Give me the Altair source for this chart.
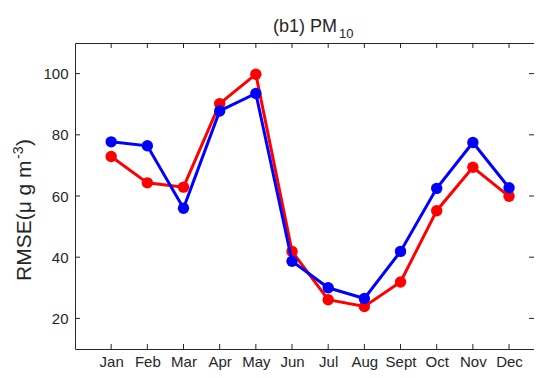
import altair as alt
import pandas as pd

months = ["Jan", "Feb", "Mar", "Apr", "May", "Jun", "Jul", "Aug", "Sept", "Oct", "Nov", "Dec"]
month_idx = list(range(1, 13))
red_vals = [72.9, 64.3, 62.9, 90.2, 99.8, 41.9, 26.1, 23.9, 31.9, 55.2, 69.4, 59.9]
blue_vals = [77.7, 76.4, 56.0, 87.8, 93.5, 38.7, 30.0, 26.5, 41.9, 62.5, 77.5, 62.7]
y_ticks = [20, 40, 60, 80, 100]

W, H = 459, 306
TXT = "#262626"
FONT = "Liberation Sans"

df = pd.DataFrame({"idx": month_idx, "month": months, "red": red_vals, "blue": blue_vals})
yt = pd.DataFrame({"v": y_ticks})

label_expr = "[" + ",".join("'%s'" % m for m in months) + "][datum.value-1]"

xscale = alt.Scale(domain=[0, 12.69], nice=False, zero=False)
yscale = alt.Scale(domain=[10, 110], nice=False, zero=False)

xaxis = alt.Axis(values=month_idx, labelExpr=label_expr, title=None, domain=False, ticks=False,
                 grid=False, labelFontSize=15, labelColor=TXT, labelFont=FONT, labelPadding=5)
yaxis = alt.Axis(values=y_ticks, title=None, domain=False, ticks=False, grid=False,
                 labelFontSize=15, labelColor=TXT, labelFont=FONT, labelPadding=7)

base = alt.Chart(df)

red_line = base.mark_line(color="#FF0000", strokeWidth=3).encode(
    x=alt.X("idx:Q", scale=xscale, axis=xaxis), y=alt.Y("red:Q", scale=yscale, axis=yaxis))
red_pts = base.mark_circle(color="#FF0000", size=130, opacity=1).encode(
    x=alt.X("idx:Q", scale=xscale), y=alt.Y("red:Q", scale=yscale))
blue_line = base.mark_line(color="#0000FF", strokeWidth=3).encode(
    x=alt.X("idx:Q", scale=xscale), y=alt.Y("blue:Q", scale=yscale))
blue_pts = base.mark_circle(color="#0000FF", size=130, opacity=1).encode(
    x=alt.X("idx:Q", scale=xscale), y=alt.Y("blue:Q", scale=yscale))

tick_len = 5
xt_bottom = base.mark_rule(color=TXT, strokeWidth=1).encode(
    x=alt.X("idx:Q", scale=xscale), y=alt.value(H), y2=alt.value(H - tick_len))
xt_top = base.mark_rule(color=TXT, strokeWidth=1).encode(
    x=alt.X("idx:Q", scale=xscale), y=alt.value(0), y2=alt.value(tick_len))
yt_left = alt.Chart(yt).mark_rule(color=TXT, strokeWidth=1).encode(
    y=alt.Y("v:Q", scale=yscale), x=alt.value(0), x2=alt.value(tick_len))
yt_right = alt.Chart(yt).mark_rule(color=TXT, strokeWidth=1).encode(
    y=alt.Y("v:Q", scale=yscale), x=alt.value(W), x2=alt.value(W - tick_len))

title_main = alt.Chart(pd.DataFrame({"t": ["(b1) PM"]})).mark_text(
    font=FONT, fontSize=18, color=TXT, align="right", baseline="alphabetic").encode(
    text="t:N", x=alt.value(262), y=alt.value(-11))
title_sub = alt.Chart(pd.DataFrame({"t": ["10"]})).mark_text(
    font=FONT, fontSize=13, color=TXT, align="left", baseline="alphabetic").encode(
    text="t:N", x=alt.value(264), y=alt.value(-5))

ylab_main = alt.Chart(pd.DataFrame({"t": ["RMSE(\u03bc g m"]})).mark_text(
    font=FONT, fontSize=21, color=TXT, align="left", baseline="middle", angle=270).encode(
    text="t:N", x=alt.value(-50), y=alt.value(238))
ylab_sup = alt.Chart(pd.DataFrame({"t": ["-3"]})).mark_text(
    font=FONT, fontSize=14, color=TXT, align="left", baseline="middle", angle=270).encode(
    text="t:N", x=alt.value(-56), y=alt.value(116))
ylab_close = alt.Chart(pd.DataFrame({"t": [")"]})).mark_text(
    font=FONT, fontSize=21, color=TXT, align="left", baseline="middle", angle=270).encode(
    text="t:N", x=alt.value(-50), y=alt.value(103))

chart = alt.layer(
    red_line, red_pts, blue_line, blue_pts,
    xt_bottom, xt_top, yt_left, yt_right,
    title_main, title_sub, ylab_main, ylab_sup, ylab_close
).properties(
    width=W, height=H,
    autosize=alt.AutoSizeParams(type="none"),
    padding={"left": 67, "top": 35, "right": 0, "bottom": 21},
    background="white",
).configure_view(
    stroke=TXT, strokeWidth=1
)

chart.save("out.html", embed_options={"renderer": "svg", "actions": False})
